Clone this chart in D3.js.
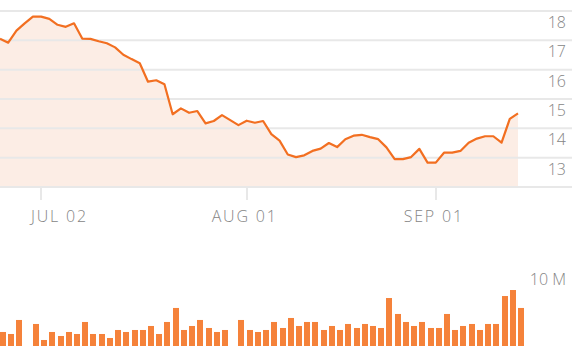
<!DOCTYPE html>
<html>
<head>
<meta charset="utf-8">
<script src="https://cdn.jsdelivr.net/npm/d3@7"></script>
<style>
	body { margin: 0; background: #fff; }
	svg { display: block; }
	text { font-family: "Open Sans", sans-serif; font-weight: 300; fill: #858585; }
</style>
</head>
<body>
<svg id="chart" width="572" height="356"></svg>
<script>
"use strict";

// Data

// closing price, one value per trading slot
var prices = [
	17.05, 16.92, 17.33, 17.58, 17.81, 17.81, 17.73, 17.53, 17.46, 17.58,
	17.06, 17.05, 16.97, 16.90, 16.76, 16.51, 16.36, 16.22, 15.59, 15.64,
	15.50, 14.48, 14.68, 14.53, 14.59, 14.17, 14.25, 14.45, 14.28, 14.11,
	14.26, 14.19, 14.25, 13.80, 13.58, 13.11, 13.02, 13.08, 13.23, 13.31,
	13.50, 13.36, 13.63, 13.75, 13.78, 13.70, 13.63, 13.35, 12.95, 12.95,
	13.02, 13.30, 12.83, 12.83, 13.17, 13.17, 13.23, 13.51, 13.65, 13.73,
	13.73, 13.51, 14.32, 14.51
];

// volume in millions of shares
var volumes = [
	1.82, 1.56, 3.38, 0, 2.86, 0.78, 1.82, 1.30, 1.82, 1.56,
	3.12, 1.56, 1.56, 1.04, 2.08, 1.82, 2.08, 2.08, 2.60, 1.56,
	3.12, 4.94, 2.08, 2.60, 3.38, 2.34, 1.82, 2.08, 0, 3.38,
	2.08, 1.82, 2.08, 3.12, 2.34, 3.64, 2.60, 3.12, 3.12, 2.08,
	2.60, 2.08, 2.86, 2.34, 2.86, 2.60, 2.34, 6.23, 4.16, 3.12,
	2.60, 3.12, 2.34, 2.34, 4.16, 2.08, 2.60, 2.86, 2.08, 2.86,
	2.86, 6.49, 7.27, 4.94
];

var priceTicks = [18, 17, 16, 15, 14, 13, 12];
var priceTickLabels = ["18", "17", "16", "15", "14", "13", ""];

var dateTickSlots = [5, 30, 53];
var dateTickLabels = ["JUL 02", "AUG 01", "SEP 01"];

var volumeTicks = [10];
var volumeTickLabels = ["10 M"];

// Scales

var width = 572;
var orange = "#f26f21";

var x = d3.scaleLinear().domain([0, prices.length - 1]).range([0, 518]);
var y = d3.scaleLinear().domain([12, 18]).range([187, 11]);
var yVol = d3.scaleLinear().domain([0, 10]).range([346, 269]);

var svg = d3.select("#chart");

// Price area
var area = d3.area()
	.x(function(d, i) { return x(i); })
	.y0(y(12))
	.y1(function(d) { return y(d); });

svg.append("path")
	.datum(prices)
	.attr("d", area)
	.style("fill", "#fcede5");

// Gridlines and labels
var grid = svg.append("g");

grid.selectAll("line")
	.data(priceTicks)
	.enter()
	.append("line")
	.attr("x1", 0)
	.attr("x2", width)
	.attr("y1", function(d) { return y(d); })
	.attr("y2", function(d) { return y(d); })
	.style("stroke", "#e8e8e8")
	.style("stroke-width", 2);

grid.selectAll("text")
	.data(priceTicks)
	.enter()
	.append("text")
	.attr("x", 566)
	.attr("y", function(d) { return y(d) + 17; })
	.attr("text-anchor", "end")
	.style("font-size", "16px")
	.text(function(d, i) { return priceTickLabels[i]; });

// Price line
var line = d3.line()
	.x(function(d, i) { return x(i); })
	.y(function(d) { return y(d); });

svg.append("path")
	.datum(prices)
	.attr("d", line)
	.style("fill", "none")
	.style("stroke", orange)
	.style("stroke-width", 2.2)
	.style("stroke-linejoin", "round");

// Date axis
var xAxis = svg.append("g");

xAxis.selectAll("line")
	.data(dateTickSlots)
	.enter()
	.append("line")
	.attr("x1", function(d) { return Math.round(x(d)); })
	.attr("x2", function(d) { return Math.round(x(d)); })
	.attr("y1", y(12))
	.attr("y2", 200)
	.style("stroke", "#e8e8e8")
	.style("stroke-width", 2);

xAxis.selectAll("text")
	.data(dateTickSlots)
	.enter()
	.append("text")
	.attr("y", 222)
	.attr("text-anchor", "middle")
	.style("font-size", "16px")
	.style("letter-spacing", "1.8px")
	.text(function(d, i) { return dateTickLabels[i]; })
	.attr("x", function(d) {
		// keep the first label clear of the left edge
		var half = this.getComputedTextLength() / 2;
		return Math.max(x(d) - 2, 31 + half);
	});

// Volume bars
svg.append("g")
	.selectAll("rect")
	.data(volumes)
	.enter()
	.append("rect")
	.attr("x", function(d, i) { return Math.round(x(i)); })
	.attr("y", function(d) { return yVol(d); })
	.attr("width", 6)
	.attr("height", function(d) { return yVol(0) - yVol(d); })
	.style("fill", "#f5823a");

svg.append("g")
	.selectAll("text")
	.data(volumeTicks)
	.enter()
	.append("text")
	.attr("x", 566)
	.attr("y", function(d) { return yVol(d) + 16; })
	.attr("text-anchor", "end")
	.style("font-size", "16px")
	.text(function(d, i) { return volumeTickLabels[i]; });
</script>
</body>
</html>
